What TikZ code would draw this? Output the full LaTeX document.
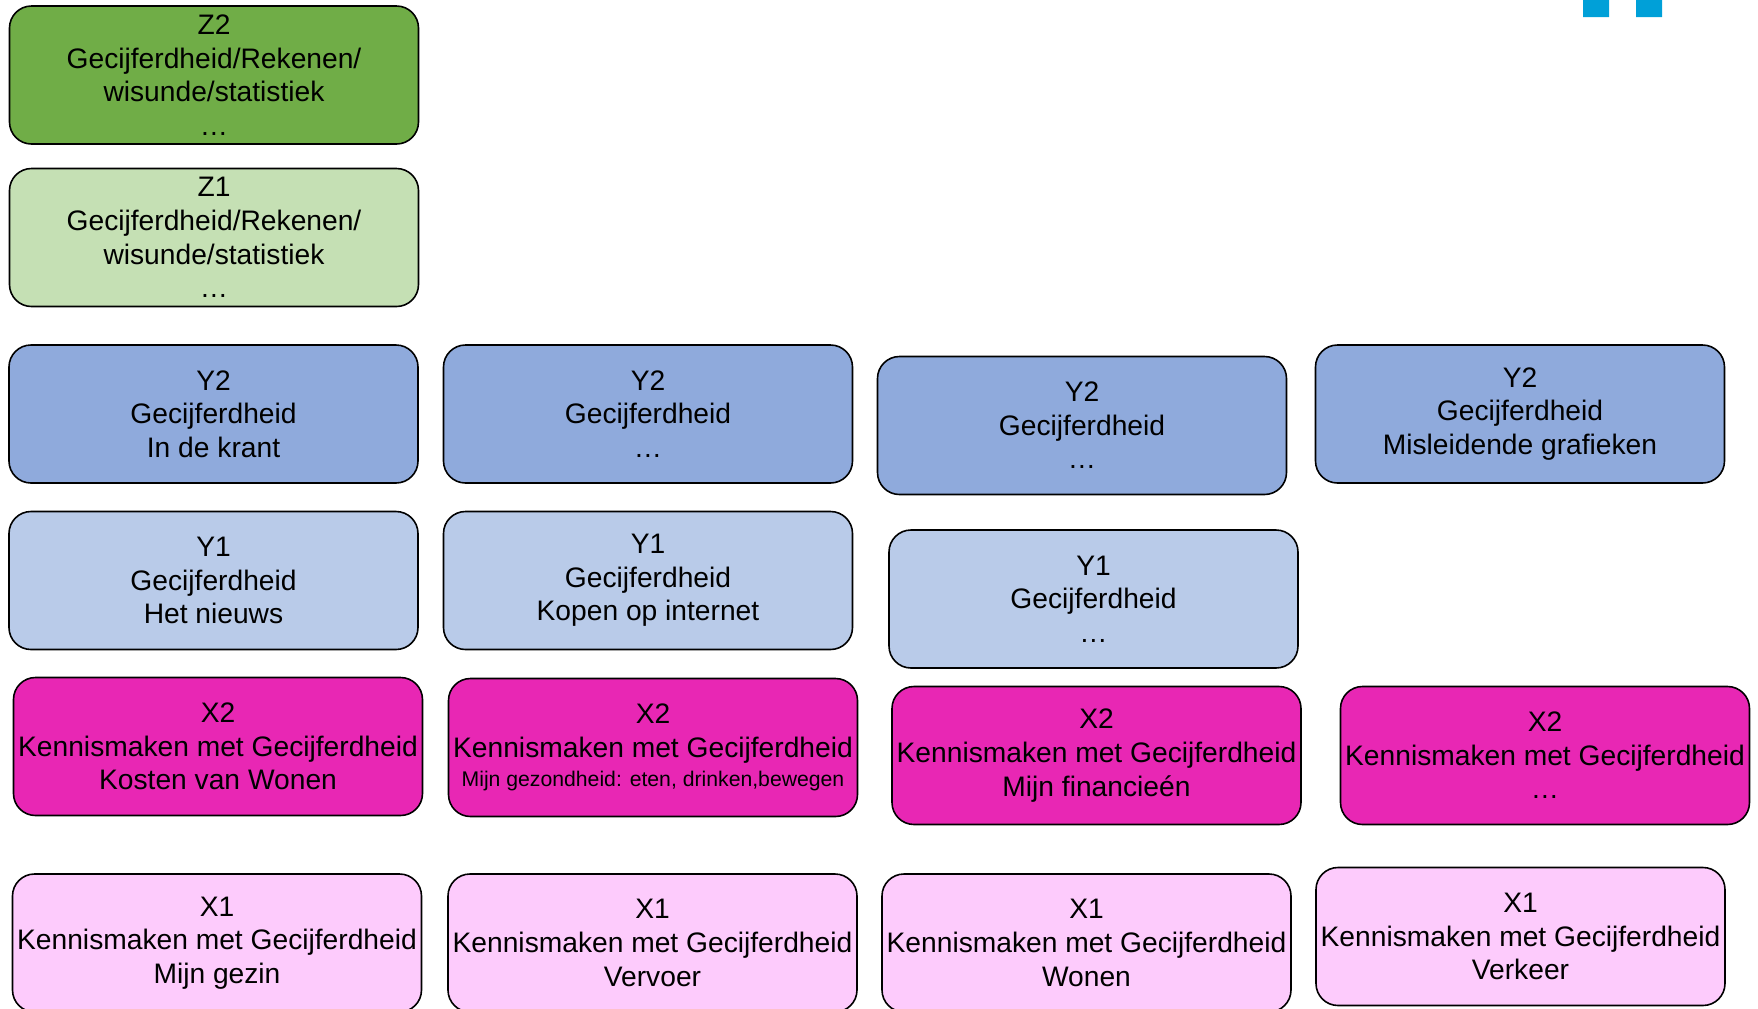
\documentclass[tikz,border=0pt]{standalone}
\usepackage{fontspec}
\setmainfont{Liberation Sans}

\definecolor{groenDonker}{HTML}{70AD47}
\definecolor{groenLicht}{HTML}{C5E0B4}
\definecolor{blauwDonker}{HTML}{8FAADC}
\definecolor{blauwLicht}{HTML}{B9CBE9}
\definecolor{rozeDonker}{HTML}{E827B4}
\definecolor{rozeLicht}{HTML}{FDCBFC}
\definecolor{logoBlauw}{HTML}{00A0D8}

\tikzset{
  tegel/.style={draw=black, line width=0.8pt, rounded corners=11pt, align=center,
    minimum width=204.5pt, minimum height=69pt, inner sep=0pt,
    font=\fontsize{14.1}{16.8}\selectfont},
  niveauZtwee/.style={tegel, fill=groenDonker},
  niveauZeen/.style={tegel, fill=groenLicht},
  niveauYtwee/.style={tegel, fill=blauwDonker},
  niveauYeen/.style={tegel, fill=blauwLicht},
  niveauXtwee/.style={tegel, fill=rozeDonker},
  niveauXeen/.style={tegel, fill=rozeLicht}
}

\begin{document}
\begin{tikzpicture}[x=0.5pt, y=-0.5pt]
    % Picture size (pixels of the sheet)
    \useasboundingbox (0,0) rectangle (1758,1008);
    \clip (0,0) rectangle (1758,1008);

    % Logo corner
    \fill[logoBlauw] (1583,-5) rectangle (1609,17) (1636,-5) rectangle (1662,17);

    % Z level
    \node[niveauZtwee] (Z2) at (214,75) {Z2\\Gecijferdheid/Rekenen/\\wisunde/statistiek\\…};
    \node[niveauZeen] (Z1) at (214,237.5) {Z1\\Gecijferdheid/Rekenen/\\wisunde/statistiek\\…};

    % Y level
    \node[niveauYtwee] (Y2a) at (213.5,414) {Y2\\Gecijferdheid\\In de krant};
    \node[niveauYtwee] (Y2b) at (648,414) {Y2\\Gecijferdheid\\…};
    \node[niveauYtwee] (Y2c) at (1082,425.5) {Y2\\Gecijferdheid\\…};
    \node[niveauYtwee] (Y2d) at (1520,414) {Y2\\Gecijferdheid\\Misleidende grafieken};

    \node[niveauYeen] (Y1a) at (213.5,580.5) {Y1\\Gecijferdheid\\Het nieuws};
    \node[niveauYeen] (Y1b) at (648,580.5) {Y1\\Gecijferdheid\\Kopen op internet};
    \node[niveauYeen] (Y1c) at (1093.5,599) {Y1\\Gecijferdheid\\…};

    % X level
    \node[niveauXtwee] (X2a) at (218,746.5) {X2\\Kennismaken met Gecijferdheid\\Kosten van Wonen};
    \node[niveauXtwee] (X2b) at (653,747.5) {X2\\Kennismaken met Gecijferdheid\\[-2pt]{\fontsize{10.6}{13}\selectfont Mijn gezondheid: eten, drinken,bewegen}};
    \node[niveauXtwee] (X2c) at (1096.5,755.5) {X2\\Kennismaken met Gecijferdheid\\Mijn financieén};
    \node[niveauXtwee] (X2d) at (1545,755.5) {X2\\Kennismaken met Gecijferdheid\\…};

    \node[niveauXeen] (X1a) at (217,943) {X1\\Kennismaken met Gecijferdheid\\Mijn gezin};
    \node[niveauXeen] (X1b) at (652.5,943) {X1\\Kennismaken met Gecijferdheid\\Vervoer};
    \node[niveauXeen] (X1c) at (1086.5,943) {X1\\Kennismaken met Gecijferdheid\\Wonen};
    \node[niveauXeen] (X1d) at (1520.5,936.5) {X1\\Kennismaken met Gecijferdheid\\Verkeer};
\end{tikzpicture}
\end{document}
